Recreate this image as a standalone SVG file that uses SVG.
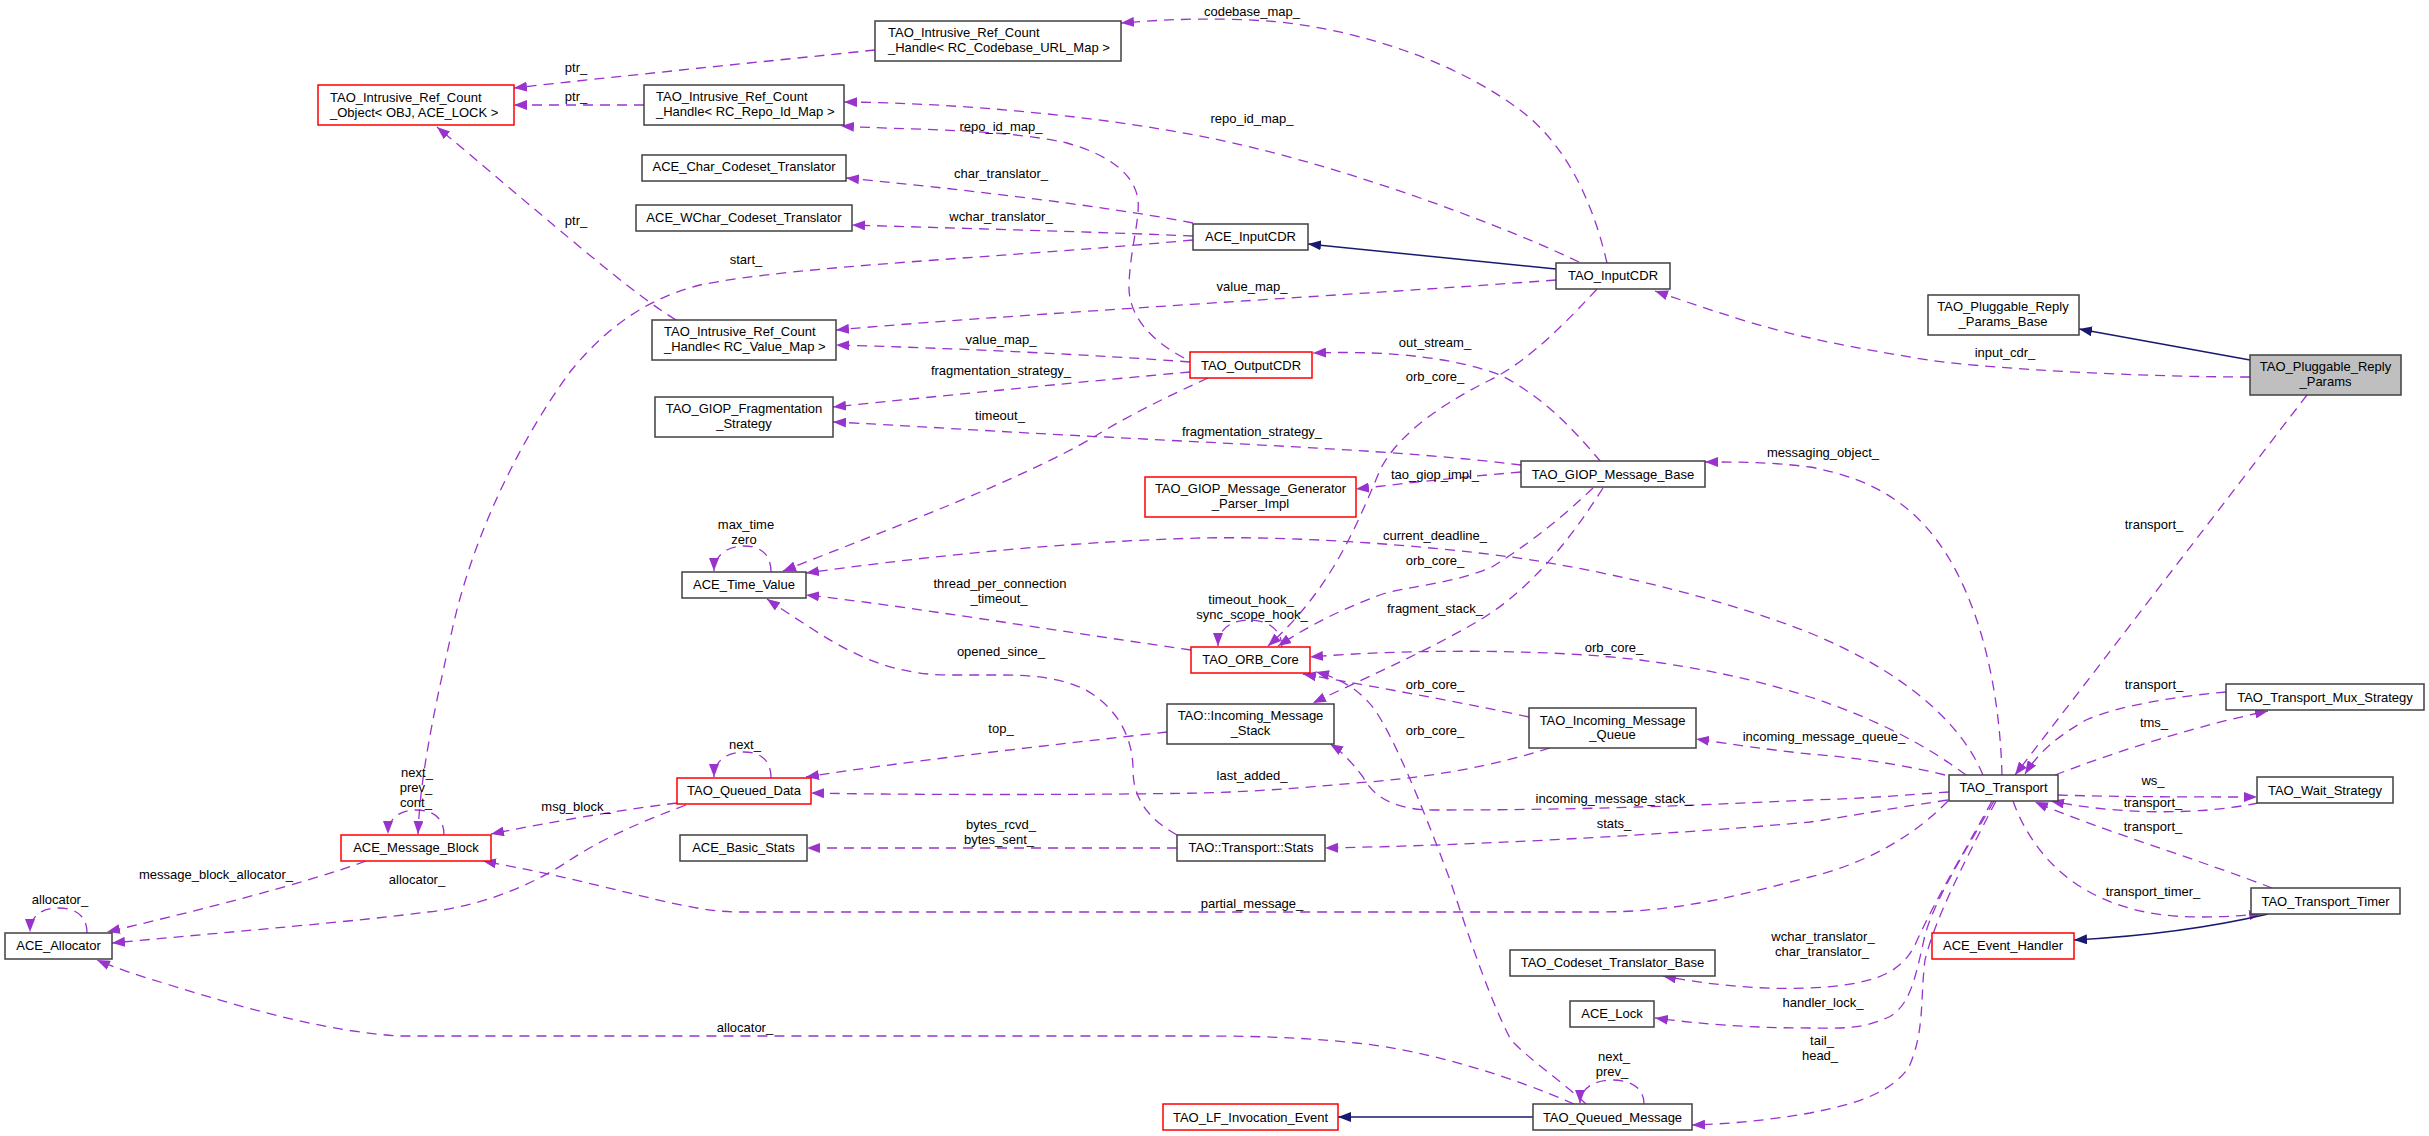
<svg xmlns="http://www.w3.org/2000/svg" width="2429" height="1136" viewBox="0 0 2429 1136">
<style>
rect{fill:#fff;stroke:#404040;stroke-width:1.5}
rect.red{stroke:#ff0000}
rect.root{fill:#bfbfbf}
text{font-family:"Liberation Sans",Arial,sans-serif;font-size:13px;fill:#000}
.c{text-anchor:middle}
.e{fill:none;stroke:#9a32cd;stroke-width:1.3;stroke-dasharray:10,7;marker-end:url(#ap)}
.i{fill:none;stroke:#191970;stroke-width:1.5;marker-end:url(#an)}
.l{text-anchor:middle}
</style>
<defs>
<marker id="ap" markerUnits="userSpaceOnUse" markerWidth="14" markerHeight="10" refX="13" refY="5" orient="auto"><path d="M0,0 L13,5 L0,10 z" fill="#9a32cd"/></marker>
<marker id="an" markerUnits="userSpaceOnUse" markerWidth="14" markerHeight="10" refX="13" refY="5" orient="auto"><path d="M0,0 L13,5 L0,10 z" fill="#191970"/></marker>
</defs>
<rect x="0" y="0" width="2429" height="1136" style="fill:#fff;stroke:none"/>
<g id="connectors">
<path class="e" d="M875,50 C760,62 620,76 514,88"/>
<path class="e" d="M644,105 L514,105"/>
<path class="e" d="M676,320 C630,292 560,230 437,127"/>
<path class="e" d="M1607,263 C1590,190 1560,140 1520,110 C1460,65 1370,32 1280,22 C1220,17 1170,19 1121,23"/>
<path class="e" d="M1579,262 C1480,215 1320,160 1210,138 C1100,116 960,103 844,102"/>
<path class="e" d="M1184,358 C1150,340 1128,315 1129,285 C1130,250 1140,220 1138,200 C1135,175 1110,155 1067,143 C1000,128 900,130 841,126"/>
<path class="e" d="M1193,223 C1100,205 950,188 846,178"/>
<path class="e" d="M1193,236 C1100,232 950,228 852,225"/>
<path class="e" d="M1193,240 C1000,258 800,265 700,285 C640,300 600,335 570,372 C520,440 470,540 450,640 C432,720 420,780 418,834"/>
<path class="e" d="M1556,280 C1400,292 1000,315 836,330"/>
<path class="e" d="M1190,362 C1100,355 950,348 836,345"/>
<path class="i" d="M1556,269 L1308,244"/>
<path class="e" d="M1190,372 C1100,380 950,395 833,407"/>
<path class="e" d="M1521,465 C1400,450 1250,445 1106,437 C1000,432 900,425 833,422"/>
<path class="e" d="M1208,378 C1170,395 1120,420 1094,437 C1020,480 900,525 783,571"/>
<path class="e" d="M1601,462 C1570,425 1540,395 1500,375 C1460,360 1400,350 1313,353"/>
<path class="e" d="M1597,289 C1550,340 1520,365 1490,380 C1430,410 1395,440 1380,470 C1355,530 1330,590 1268,646"/>
<path class="e" d="M1521,472 C1450,478 1400,484 1356,489"/>
<path class="e" d="M1593,488 C1560,520 1520,550 1492,567 C1450,585 1410,585 1380,595 C1340,610 1310,625 1278,646"/>
<path class="e" d="M1603,488 C1570,540 1530,590 1480,620 C1420,655 1360,680 1313,703"/>
<path class="e" d="M1282,647 C1282,628 1265,620 1250,620 C1232,620 1218,628 1218,646"/>
<path class="e" d="M1983,775 C1960,720 1900,670 1810,633 C1740,605 1620,572 1511,557 C1420,545 1300,536 1200,538 C1050,542 900,560 806,573"/>
<path class="e" d="M1191,650 C1050,630 900,605 806,595"/>
<path class="e" d="M771,572 C771,552 758,546 744,546 C728,546 714,555 714,571"/>
<path class="e" d="M1177,835 C1150,820 1133,800 1133,770 C1133,740 1120,710 1086,690 C1060,677 1030,675 1000,675 L950,675 C900,675 860,660 814,630 C795,618 780,608 767,599"/>
<path class="e" d="M2002,775 C2000,700 1985,620 1950,560 C1920,510 1880,480 1810,467 C1770,462 1740,462 1705,462"/>
<path class="e" d="M1966,775 C1930,748 1880,720 1810,697 C1750,678 1700,668 1640,660 C1560,650 1420,648 1310,657"/>
<path class="e" d="M1949,792 C1880,797 1850,799 1810,800 C1700,805 1600,810 1433,810 C1400,810 1375,800 1363,777 C1350,760 1340,750 1330,744"/>
<path class="e" d="M1550,748 C1480,770 1420,778 1356,783 C1300,788 1250,792 1200,793 C1100,795 900,795 811,793"/>
<path class="e" d="M1167,732 C1050,745 900,762 806,777"/>
<path class="e" d="M771,778 C771,758 758,752 744,752 C728,752 714,760 714,777"/>
<path class="e" d="M677,803 C620,810 550,822 491,834"/>
<path class="e" d="M686,805 C640,822 600,840 570,860 C540,880 490,905 428,912 C350,922 250,930 112,943"/>
<path class="e" d="M366,861 C300,885 200,910 107,932"/>
<path class="e" d="M87,933 C87,915 75,908 58,908 C42,908 30,916 30,932"/>
<path class="e" d="M444,835 C444,817 432,810 416,810 C400,810 388,818 388,834"/>
<path class="e" d="M1948,801 C1910,840 1860,865 1810,877 C1740,895 1680,912 1600,912 L740,912 C700,912 660,900 600,886 C560,876 520,868 483,861"/>
<path class="e" d="M1948,800 C1880,810 1840,818 1810,822 C1700,832 1500,845 1325,848"/>
<path class="e" d="M1177,848 L807,848"/>
<path class="e" d="M1574,1104 C1520,1080 1430,1050 1356,1043 C1300,1037 1250,1036 1200,1036 L400,1036 C330,1032 250,1010 170,985 C140,976 115,968 97,960"/>
<path class="e" d="M1586,1104 C1560,1080 1530,1060 1511,1040 C1490,1000 1470,940 1450,880 C1420,800 1395,740 1375,710 C1360,690 1340,678 1316,672"/>
<path class="e" d="M1529,717 C1450,700 1380,688 1303,674"/>
<path class="e" d="M1945,775 C1900,764 1850,757 1810,754 C1770,750 1730,744 1696,739"/>
<path class="e" d="M2055,775 C2120,750 2200,725 2268,711"/>
<path class="e" d="M2226,692 C2180,696 2120,705 2086,720 C2060,735 2040,750 2025,774"/>
<path class="e" d="M2307,395 L2015,775"/>
<path class="e" d="M2058,795 C2120,797 2200,797 2257,797"/>
<path class="e" d="M2258,803 C2200,815 2120,815 2051,801"/>
<path class="e" d="M2272,888 C2200,860 2100,830 2035,802"/>
<path class="e" d="M2013,801 C2025,835 2050,870 2086,890 C2120,910 2160,917 2200,917 C2230,917 2250,915 2262,913"/>
<path class="i" d="M2268,914 C2200,930 2130,937 2074,940"/>
<path class="e" d="M1992,801 C1960,860 1935,900 1915,945 C1900,975 1870,985 1810,988 C1760,990 1710,985 1663,976"/>
<path class="e" d="M1994,801 C1960,860 1935,900 1925,935 C1915,980 1910,1005 1889,1017 C1860,1030 1840,1028 1810,1028 C1750,1028 1700,1024 1655,1018"/>
<path class="e" d="M1996,801 C1960,870 1935,920 1925,960 C1920,1000 1925,1030 1909,1067 C1890,1095 1850,1105 1810,1113 C1770,1120 1730,1124 1692,1125"/>
<path class="e" d="M2250,377 C2150,377 2000,370 1928,360 C1880,352 1840,345 1810,338 C1760,327 1710,310 1655,291"/>
<path class="i" d="M2250,360 L2079,329"/>
<path class="i" d="M1533,1117 L1338,1117"/>
<path class="e" d="M1644,1104 C1644,1087 1630,1080 1612,1080 C1595,1080 1580,1088 1580,1103"/>
<text class="l" x="576" y="72">ptr_</text>
<text class="l" x="576" y="101">ptr_</text>
<text class="l" x="576" y="225">ptr_</text>
<text class="l" x="1252" y="16">codebase_map_</text>
<text class="l" x="1252" y="123">repo_id_map_</text>
<text class="l" x="1001" y="131">repo_id_map_</text>
<text class="l" x="1001" y="178">char_translator_</text>
<text class="l" x="1001" y="221">wchar_translator_</text>
<text class="l" x="746" y="264">start_</text>
<text class="l" x="1252" y="291">value_map_</text>
<text class="l" x="1001" y="344">value_map_</text>
<text class="l" x="1001" y="375">fragmentation_strategy_</text>
<text class="l" x="1252" y="436">fragmentation_strategy_</text>
<text class="l" x="1000" y="420">timeout_</text>
<text class="l" x="1435" y="347">out_stream_</text>
<text class="l" x="1435" y="381">orb_core_</text>
<text class="l" x="1435" y="479">tao_giop_impl_</text>
<text class="l" x="1435" y="540">current_deadline_</text>
<text class="l" x="1435" y="565">orb_core_</text>
<text class="l" x="1435" y="613">fragment_stack_</text>
<text class="l" x="1251" y="604">timeout_hook_</text>
<text class="l" x="1252" y="619">sync_scope_hook_</text>
<text class="l" x="746" y="529">max_time</text>
<text class="l" x="744" y="544">zero</text>
<text class="l" x="1000" y="588">thread_per_connection</text>
<text class="l" x="999" y="603">_timeout_</text>
<text class="l" x="1614" y="652">orb_core_</text>
<text class="l" x="1001" y="656">opened_since_</text>
<text class="l" x="1435" y="689">orb_core_</text>
<text class="l" x="1001" y="733">top_</text>
<text class="l" x="1435" y="735">orb_core_</text>
<text class="l" x="1824" y="741">incoming_message_queue_</text>
<text class="l" x="745" y="749">next_</text>
<text class="l" x="1252" y="780">last_added_</text>
<text class="l" x="1614" y="803">incoming_message_stack_</text>
<text class="l" x="1614" y="828">stats_</text>
<text class="l" x="576" y="811">msg_block_</text>
<text class="l" x="1001" y="829">bytes_rcvd_</text>
<text class="l" x="999" y="844">bytes_sent_</text>
<text class="l" x="417" y="884">allocator_</text>
<text class="l" x="216" y="879">message_block_allocator_</text>
<text class="l" x="60" y="904">allocator_</text>
<text class="l" x="417" y="777">next_</text>
<text class="l" x="416" y="792">prev_</text>
<text class="l" x="416" y="807">cont_</text>
<text class="l" x="1252" y="908">partial_message_</text>
<text class="l" x="745" y="1032">allocator_</text>
<text class="l" x="1823" y="457">messaging_object_</text>
<text class="l" x="2005" y="357">input_cdr_</text>
<text class="l" x="2154" y="529">transport_</text>
<text class="l" x="2154" y="689">transport_</text>
<text class="l" x="2154" y="727">tms_</text>
<text class="l" x="2153" y="785">ws_</text>
<text class="l" x="2153" y="807">transport_</text>
<text class="l" x="2153" y="831">transport_</text>
<text class="l" x="2153" y="896">transport_timer_</text>
<text class="l" x="1823" y="941">wchar_translator_</text>
<text class="l" x="1822" y="956">char_translator_</text>
<text class="l" x="1823" y="1007">handler_lock_</text>
<text class="l" x="1822" y="1045">tail_</text>
<text class="l" x="1820" y="1060">head_</text>
<text class="l" x="1614" y="1061">next_</text>
<text class="l" x="1612" y="1076">prev_</text>
</g>
<g id="n_intrusive_object"><rect class="red" x="318" y="85" width="196" height="40"/><text x="330" y="101.5">TAO_Intrusive_Ref_Count</text><text x="330" y="116.5">_Object&lt; OBJ, ACE_LOCK &gt;</text></g>
<g id="n_handle_codebase"><rect x="875" y="21" width="246" height="40"/><text x="888" y="37">TAO_Intrusive_Ref_Count</text><text x="888" y="52">_Handle&lt; RC_Codebase_URL_Map &gt;</text></g>
<g id="n_handle_repo"><rect x="644" y="85" width="200" height="40"/><text x="656" y="101">TAO_Intrusive_Ref_Count</text><text x="656" y="116">_Handle&lt; RC_Repo_Id_Map &gt;</text></g>
<g id="n_char_trans"><rect x="642" y="155" width="204" height="26"/><text class="c" x="744" y="171">ACE_Char_Codeset_Translator</text></g>
<g id="n_wchar_trans"><rect x="636" y="205" width="216" height="26"/><text class="c" x="744" y="222">ACE_WChar_Codeset_Translator</text></g>
<g id="n_handle_value"><rect x="652" y="320" width="184" height="40"/><text x="664" y="336">TAO_Intrusive_Ref_Count</text><text x="664" y="351">_Handle&lt; RC_Value_Map &gt;</text></g>
<g id="n_ace_inputcdr"><rect x="1193" y="224" width="115" height="26"/><text class="c" x="1250.5" y="241">ACE_InputCDR</text></g>
<g id="n_tao_inputcdr"><rect x="1556" y="263" width="114" height="26"/><text class="c" x="1613" y="280">TAO_InputCDR</text></g>
<g id="n_tao_outputcdr"><rect class="red" x="1190" y="352" width="122" height="26"/><text class="c" x="1251" y="369.5">TAO_OutputCDR</text></g>
<g id="n_prp_base"><rect x="1928" y="295" width="151" height="40"/><text class="c" x="2003" y="311">TAO_Pluggable_Reply</text><text class="c" x="2003" y="326">_Params_Base</text></g>
<g id="n_prp"><rect class="root" x="2250" y="355" width="151" height="40"/><text class="c" x="2325.5" y="371">TAO_Pluggable_Reply</text><text class="c" x="2325.5" y="386">_Params</text></g>
<g id="n_frag_strategy"><rect x="655" y="397" width="178" height="40"/><text class="c" x="744" y="413">TAO_GIOP_Fragmentation</text><text class="c" x="744" y="428">_Strategy</text></g>
<g id="n_gen_parser"><rect class="red" x="1145" y="477" width="211" height="40"/><text class="c" x="1250.5" y="493">TAO_GIOP_Message_Generator</text><text class="c" x="1250.5" y="508">_Parser_Impl</text></g>
<g id="n_giop_base"><rect x="1521" y="461" width="184" height="26"/><text class="c" x="1613" y="478.5">TAO_GIOP_Message_Base</text></g>
<g id="n_time_value"><rect x="682" y="572" width="124" height="26"/><text class="c" x="744" y="589">ACE_Time_Value</text></g>
<g id="n_orb_core"><rect class="red" x="1191" y="647" width="119" height="26"/><text class="c" x="1250.5" y="664">TAO_ORB_Core</text></g>
<g id="n_inc_stack"><rect x="1167" y="704" width="167" height="40"/><text class="c" x="1250.5" y="720">TAO::Incoming_Message</text><text class="c" x="1250.5" y="735">_Stack</text></g>
<g id="n_inc_queue"><rect x="1529" y="708" width="167" height="40"/><text class="c" x="1612.5" y="724.5">TAO_Incoming_Message</text><text class="c" x="1612.5" y="739">_Queue</text></g>
<g id="n_mux"><rect x="2226" y="684" width="198" height="26"/><text class="c" x="2325" y="701.5">TAO_Transport_Mux_Strategy</text></g>
<g id="n_transport"><rect x="1949" y="775" width="109" height="26"/><text class="c" x="2003.5" y="792">TAO_Transport</text></g>
<g id="n_wait"><rect x="2257" y="777" width="136" height="26"/><text class="c" x="2325" y="794.5">TAO_Wait_Strategy</text></g>
<g id="n_timer"><rect x="2251" y="888" width="149" height="26"/><text class="c" x="2325.5" y="905.5">TAO_Transport_Timer</text></g>
<g id="n_event_handler"><rect class="red" x="1932" y="933" width="142" height="26"/><text class="c" x="2003" y="950">ACE_Event_Handler</text></g>
<g id="n_queued_data"><rect class="red" x="677" y="778" width="134" height="26"/><text class="c" x="744" y="795">TAO_Queued_Data</text></g>
<g id="n_basic_stats"><rect x="680" y="835" width="127" height="26"/><text class="c" x="743.5" y="852">ACE_Basic_Stats</text></g>
<g id="n_transport_stats"><rect x="1177" y="835" width="148" height="26"/><text class="c" x="1251" y="852">TAO::Transport::Stats</text></g>
<g id="n_message_block"><rect class="red" x="341" y="835" width="150" height="26"/><text class="c" x="416" y="852">ACE_Message_Block</text></g>
<g id="n_allocator"><rect x="5" y="933" width="107" height="26"/><text class="c" x="58.5" y="950">ACE_Allocator</text></g>
<g id="n_codeset_base"><rect x="1510" y="950" width="205" height="26"/><text class="c" x="1612.5" y="967">TAO_Codeset_Translator_Base</text></g>
<g id="n_ace_lock"><rect x="1570" y="1001" width="84" height="26"/><text class="c" x="1612" y="1018">ACE_Lock</text></g>
<g id="n_lf_event"><rect class="red" x="1163" y="1104" width="175" height="26"/><text class="c" x="1250.5" y="1121.5">TAO_LF_Invocation_Event</text></g>
<g id="n_queued_message"><rect x="1533" y="1104" width="159" height="26"/><text class="c" x="1612.5" y="1121.5">TAO_Queued_Message</text></g>
</svg>
